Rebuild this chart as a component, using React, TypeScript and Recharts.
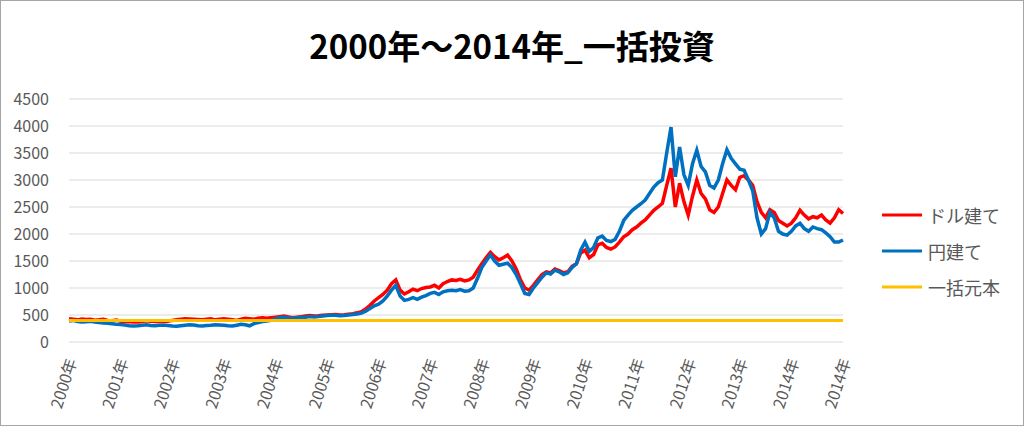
import { LineChart, Line, XAxis, YAxis, CartesianGrid } from 'recharts';

// x-axis labels (one every 12 points)
const yearLabels = [
  '2000年', '2001年', '2002年', '2003年', '2004年', '2005年', '2006年', '2007年',
  '2008年', '2009年', '2010年', '2011年', '2012年', '2013年', '2014年', '2014年',
];

// ドル建て (red)
const dollarValues = [
  430, 420, 410, 425, 415, 420, 405, 410, 420, 400, 395, 405,
  385, 380, 375, 370, 372, 380, 395, 385, 378, 380, 390, 385,
  400, 410, 420, 430, 425, 420, 415, 410, 420, 430, 410, 420,
  430, 420, 410, 400, 420, 440, 430, 420, 440, 450, 440, 450,
  460, 470, 480, 465, 450, 460, 470, 480, 490, 480, 485, 495,
  500, 505, 510, 500, 505, 515, 525, 540, 560, 610, 680, 760,
  820, 880, 960, 1080, 1150, 960, 890, 930, 980, 950, 990, 1010,
  1020, 1050, 1000, 1080, 1120, 1150, 1140, 1160, 1130, 1150, 1200, 1330,
  1450, 1560, 1660, 1580, 1520, 1560, 1610, 1500, 1350, 1150, 1000, 960,
  1050, 1150, 1250, 1300, 1280, 1350, 1320, 1280, 1300, 1400, 1450, 1650,
  1700, 1560, 1620, 1800, 1830, 1750, 1720, 1760, 1850, 1950, 2000, 2080,
  2130, 2200, 2260, 2350, 2440, 2500, 2570, 2900, 3220, 2500, 2940, 2600,
  2350, 2700, 3000, 2750, 2650, 2450, 2400, 2500, 2750, 3000, 2900, 2820,
  3050, 3080, 3000, 2900, 2600, 2400, 2300, 2450, 2400, 2250, 2200, 2150,
  2200, 2300, 2440, 2350, 2280, 2320, 2300, 2350, 2260, 2200, 2300, 2450, 2380,
];

// 円建て (blue)
const yenValues = [
  390, 400, 380, 370, 375, 385, 370, 360, 350, 345, 340, 330,
  325, 315, 300, 295, 300, 310, 320, 305, 300, 310, 315, 305,
  295, 290, 300, 310, 320, 315, 300, 295, 305, 310, 320, 315,
  310, 300, 295, 310, 330, 320, 300, 340, 360, 380, 390, 400,
  430, 450, 460, 445, 440, 450, 455, 460, 470, 465, 470, 480,
  490, 495, 495, 485, 490, 500, 510, 520, 535, 570, 620, 670,
  700, 760, 850, 960, 1050, 850, 770, 790, 820, 790, 830, 860,
  900, 920, 880, 930, 950, 960, 950, 970, 940, 950, 1000, 1180,
  1380, 1500, 1610, 1500, 1420, 1440, 1460, 1380, 1250, 1080, 900, 880,
  1000, 1100, 1200, 1280, 1260, 1330, 1300, 1250, 1280, 1380, 1450, 1700,
  1850, 1680, 1750, 1930, 1960, 1880, 1860, 1900, 2050, 2250, 2350, 2440,
  2500, 2560, 2630, 2750, 2870, 2950, 3000, 3500, 3980, 3060, 3610, 3100,
  2900, 3300, 3550, 3250, 3150, 2900, 2850, 3000, 3300, 3560, 3400, 3300,
  3200, 3180, 3000, 2800, 2300, 2000, 2100, 2400, 2300, 2050, 2000, 1980,
  2050, 2150, 2200, 2100, 2050, 2130, 2100, 2080, 2020, 1950, 1850, 1850, 1890,
];

// 一括元本 (flat)
const principal = 400;

const yTicks = [0, 500, 1000, 1500, 2000, 2500, 3000, 3500, 4000, 4500];
const xTicks = yearLabels.map((_, k) => k * 12);

const chartData = dollarValues.map((v, i) => ({
  i,
  dollar: v,
  yen: yenValues[i],
  principal,
}));

const series = [
  { key: 'dollar', name: 'ドル建て', color: '#FF0000' },
  { key: 'yen', name: '円建て', color: '#0070C0' },
  { key: 'principal', name: '一括元本', color: '#FFC000' },
];

const FONT = '"Noto Sans CJK JP", "Noto Sans", sans-serif';

function YearTick({ x, y, payload }: any) {
  const label = yearLabels[Math.round(payload.value / 12)];
  const tx = x + 3;
  const ty = y + 9;
  return (
    <text
      x={tx}
      y={ty}
      transform={`rotate(-72 ${tx} ${ty})`}
      textAnchor="end"
      dy="0.35em"
      fill="#595959"
      fontSize={16}
      fontFamily={FONT}
    >
      {label}
    </text>
  );
}

function LegendBox() {
  return (
    <div style={{ position: 'absolute', left: 881, top: 196, fontFamily: FONT }}>
      {series.map((s) => (
        <div key={s.key} style={{ display: 'flex', alignItems: 'center', height: 36 }}>
          <svg width={40} height={4} style={{ marginRight: 6 }}>
            <line x1={0} y1={2} x2={40} y2={2} stroke={s.color} strokeWidth={3} />
          </svg>
          <span style={{ fontSize: 18, color: '#595959' }}>{s.name}</span>
        </div>
      ))}
    </div>
  );
}

export default function App() {
  return (
    <div
      style={{
        position: 'absolute',
        left: 0,
        top: 0,
        width: 1024,
        height: 426,
        background: '#fff',
        border: '1px solid #a6a6a6',
        boxSizing: 'border-box',
        fontFamily: FONT,
      }}
    >
      <div
        style={{
          position: 'absolute',
          left: 0,
          width: 1022,
          top: 22,
          textAlign: 'center',
          fontSize: 33,
          fontWeight: 'bold',
          color: '#000',
          lineHeight: '44px',
        }}
      >
        2000年～2014年_一括投資
      </div>
      <div style={{ position: 'absolute', left: -1, top: -1 }}>
        <LineChart
          width={1024}
          height={426}
          data={chartData}
          margin={{ top: 99, right: 181, bottom: 0, left: 0 }}
        >
          <CartesianGrid vertical={false} stroke="#d9d9d9" strokeWidth={1} />
          <XAxis
            dataKey="i"
            type="number"
            domain={[0, 180]}
            ticks={xTicks}
            interval={0}
            height={84}
            axisLine={false}
            tickLine={false}
            tick={<YearTick />}
          />
          <YAxis
            width={69}
            domain={[0, 4500]}
            ticks={yTicks}
            interval={0}
            axisLine={false}
            tickLine={false}
            tickMargin={14}
            tick={{ fill: '#595959', fontSize: 16, fontFamily: FONT }}
          />
          {series.map((s) => (
            <Line
              key={s.key}
              type="linear"
              dataKey={s.key}
              name={s.name}
              stroke={s.color}
              strokeWidth={s.key === 'principal' ? 3 : 3.5}
              dot={false}
              isAnimationActive={false}
            />
          ))}
        </LineChart>
      </div>
      <LegendBox />
    </div>
  );
}
